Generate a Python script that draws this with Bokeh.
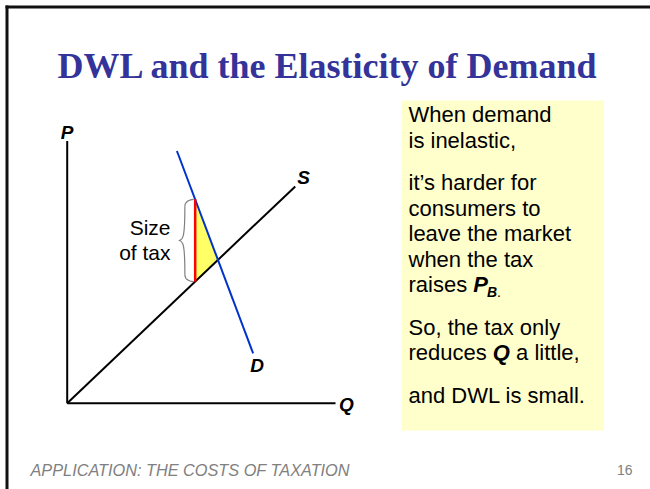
from bokeh.plotting import figure
from bokeh.models import Range1d
from bokeh.core.properties import value
from bokeh.embed import file_html
from bokeh.resources import INLINE

# ---------------- data ----------------
title_text = "DWL and the Elasticity of Demand"
footer_text = "APPLICATION:  THE COSTS OF TAXATION"
slide_number = "16"

axis_q_max = 100.0
axis_p_max = 97.7

supply_q = [0.0, 85.0]
supply_p = [0.0, 80.8]

demand_q = [40.9, 69.3]
demand_p = [94.0, 18.6]

tax_q = 47.7
price_buyers = 76.0
price_sellers = 45.3
eq_q = 56.2
eq_p = 53.4

dwl_q = [tax_q, tax_q, eq_q]
dwl_p = [price_buyers, price_sellers, eq_p]

tax_label_lines = ["Size", "of tax"]
box_lines_a = ["When demand", "is inelastic,"]
box_lines_b = ["it\u2019s harder for", "consumers to", "leave the market", "when the tax"]
box_line_raises = ["raises ", "P", "B", "."]
box_line_so = ["So, the tax only"]
box_line_reduces = ["reduces ", "Q", "a little,"]
box_line_last = ["and DWL is small."]

# ---------------- layout helpers (slide pixels -> data units) ----------------
K = 2.683
OX, OY = 66.7, 402.7


def X(ix):
    return (ix - OX) / K


def Y(iy):
    return (OY - iy) / K


def px(d):
    return d / K


W, H = 650, 489
p = figure(width=W, height=H, output_backend="svg", toolbar_location=None,
           x_range=Range1d(X(0), X(W)), y_range=Range1d(Y(H), Y(0)),
           min_border=0)
p.axis.visible = False
p.grid.visible = False
p.outline_line_color = None
p.background_fill_color = "white"
p.border_fill_color = "white"

SANS = value("Liberation Sans")
SERIF = value("Liberation Serif")

# slide frame (top and left edges)
p.segment(x0=[X(5)], y0=[Y(6.5)], x1=[X(W)], y1=[Y(6.5)], line_color="#111111", line_width=3)
p.segment(x0=[X(6.5)], y0=[Y(5)], x1=[X(6.5)], y1=[Y(H)], line_color="#111111", line_width=3)

# title
p.text(x=[X(57)], y=[Y(65)], text=[title_text], text_font=SERIF, text_font_style="bold",
       text_font_size="36px", text_color="#333399", text_baseline="middle", text_align="left")

# footer
p.text(x=[X(30)], y=[Y(469)], text=[footer_text], text_font=SANS, text_font_style="italic",
       text_font_size="16.3px", text_color="#808080", text_baseline="middle", text_align="left")
p.text(x=[X(632)], y=[Y(469)], text=[slide_number], text_font=SANS,
       text_font_size="14px", text_color="#808080", text_baseline="middle", text_align="right")

# ---------------- diagram ----------------
# DWL triangle
p.patch(x=dwl_q, y=dwl_p, fill_color="#FFFF66", line_color=None)

# axes
p.line(x=[0, 0], y=[0, axis_p_max], line_color="black", line_width=2)
p.line(x=[0, axis_q_max], y=[0, 0], line_color="black", line_width=2)

# supply and demand
p.line(x=supply_q, y=supply_p, line_color="black", line_width=2)
p.line(x=demand_q, y=demand_p, line_color="#0033CC", line_width=2)

# tax wedge
p.line(x=[tax_q, tax_q], y=[price_sellers, price_buyers], line_color="#FF0000", line_width=2.5)

# brace
bx_end = tax_q - px(1.5)
bx_sp = tax_q - px(10.3)
bx_tip = tax_q - px(16.4)
b_top = price_buyers
b_bot = price_sellers
b_mid = (b_top + b_bot) / 2
p.bezier(
    x0=[bx_end, bx_sp, bx_tip, bx_sp],
    y0=[b_top, b_top - px(7), b_mid, b_bot + px(7)],
    x1=[bx_sp, bx_tip, bx_sp, bx_end],
    y1=[b_top - px(7), b_mid, b_bot + px(7), b_bot],
    cx0=[bx_sp + px(5), bx_sp, bx_sp - px(1.5), bx_sp],
    cy0=[b_top, b_mid + px(5), b_mid, b_bot + px(2)],
    cx1=[bx_sp, bx_sp - px(1.5), bx_sp, bx_sp + px(5)],
    cy1=[b_top - px(2), b_mid, b_mid - px(5), b_bot],
    line_color="#7F7F7F", line_width=1.2)

# "Size of tax" label
p.text(x=[X(170), X(170)], y=[Y(226.5), Y(252)], text=tax_label_lines, text_font=SANS,
       text_font_size="21px", text_color="black", text_baseline="middle", text_align="right")

# axis / curve labels
lab = dict(text_font=SANS, text_font_style="bold italic", text_font_size="19px",
           text_color="black", text_baseline="middle", text_align="center")
p.text(x=[0], y=[axis_p_max + px(9)], text=["P"], **lab)
p.text(x=[axis_q_max + px(11)], y=[px(-1)], text=["Q"], **lab)
p.text(x=[supply_q[1] + px(8.3)], y=[supply_p[1] + px(9.3)], text=["S"], **lab)
p.text(x=[demand_q[1] + px(4)], y=[demand_p[1] - px(12)], text=["D"], **lab)

# ---------------- text box ----------------
p.quad(left=[X(401)], right=[X(603.3)], top=[Y(100)], bottom=[Y(430)],
       fill_color="#FFFFCC", line_color=None)

TX = 408.0
FS = 22
body = dict(text_font=SANS, text_font_size=f"{FS}px", text_color="black",
            text_baseline="middle", text_align="left")
bold_it = dict(text_font=SANS, text_font_style="bold italic", text_color="black",
               text_baseline="middle", text_align="left")
L = 25.5
G = 17.0
ys = []
y = 114.0
for i in range(10):
    ys.append(y)
    y += L
    if i in (1, 6, 8):
        y += G

plain = box_lines_a + box_lines_b
p.text(x=[X(TX)] * len(plain), y=[Y(v) for v in ys[:6]], text=plain, **body)

# raises P_B.
w_raises = 2.945 * FS
w_P = 0.667 * FS
p.text(x=[X(TX)], y=[Y(ys[6])], text=[box_line_raises[0]], **body)
p.text(x=[X(TX + w_raises)], y=[Y(ys[6])], text=[box_line_raises[1]],
       text_font_size=f"{FS}px", **bold_it)
p.text(x=[X(TX + w_raises + w_P - 1)], y=[Y(ys[6] + 7)], text=[box_line_raises[2]],
       text_font_size="14px", **bold_it)
p.text(x=[X(TX + w_raises + w_P - 1 + 10.1)], y=[Y(ys[6] + 7)], text=[box_line_raises[3]],
       text_font=SANS, text_font_size="14px",
       text_color="black", text_baseline="middle", text_align="left")

p.text(x=[X(TX)], y=[Y(ys[7])], text=box_line_so, **body)

# reduces Q a little,
w_reduces = 3.835 * FS
w_Q = 0.778 * FS
w_space = 0.278 * FS
p.text(x=[X(TX)], y=[Y(ys[8])], text=[box_line_reduces[0]], **body)
p.text(x=[X(TX + w_reduces)], y=[Y(ys[8])], text=[box_line_reduces[1]],
       text_font_size=f"{FS}px", **bold_it)
p.text(x=[X(TX + w_reduces + w_Q + w_space)], y=[Y(ys[8])], text=[box_line_reduces[2]], **body)

p.text(x=[X(TX)], y=[Y(ys[9])], text=box_line_last, **body)

open("out.html", "w").write(file_html(p, INLINE))
